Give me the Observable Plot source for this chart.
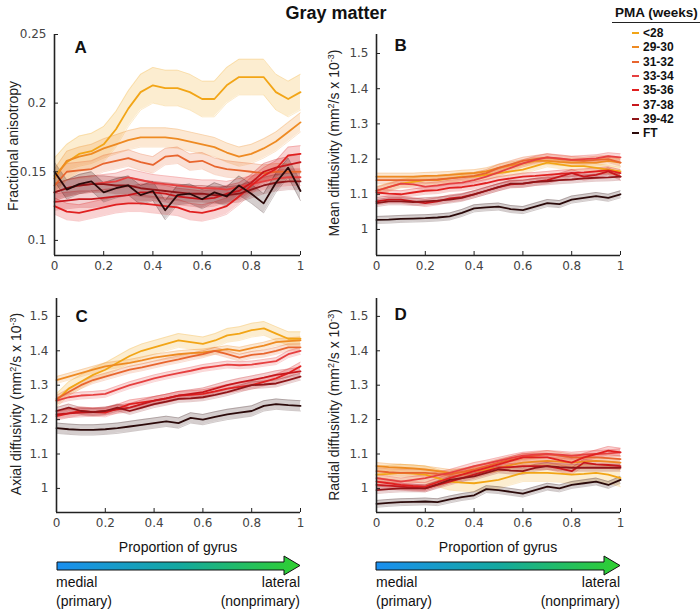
<!DOCTYPE html>
<html><head><meta charset="utf-8">
<script src="https://cdn.jsdelivr.net/npm/d3@7"></script>
<script src="https://cdn.jsdelivr.net/npm/@observablehq/plot@0.6"></script>
<style>
body{margin:0;background:#fff;}
#root{position:relative;width:700px;height:611px;font-family:"Liberation Sans",Arial,Helvetica,sans-serif;color:#111;overflow:hidden;background:#fff}
.abs{position:absolute;white-space:nowrap}
.ylab{position:absolute;font-size:14px;color:#222;white-space:nowrap;transform:translate(-50%,-50%) rotate(-90deg);}
.ylab sup{font-size:9px;vertical-align:5px;line-height:0}
.xlab{position:absolute;font-size:14px;color:#111;white-space:nowrap;transform:translate(-50%,-50%);}
.dir{position:absolute;font-size:14px;color:#111;white-space:nowrap;line-height:19px}
.leg{position:absolute;font-size:12px;font-weight:bold;color:#111;white-space:nowrap;line-height:14px}
</style></head><body><div id="root"></div>
<script>
// ---- data ----
const groups = ["<28","29-30","31-32","33-34","35-36","37-38","39-42","FT"];
const palette = ["#f2a516","#ee8a22","#e8652e","#e64040","#e02020","#c8171c","#8f1518","#2b0a0a"];
const xs = [0,0.05,0.1,0.15,0.2,0.25,0.3,0.35,0.4,0.45,0.5,0.55,0.6,0.65,0.7,0.75,0.8,0.85,0.9,0.95,1];
const xTicks = [0,0.2,0.4,0.6,0.8,1];
const faTicks = [0.1,0.15,0.2,0.25];
const dTicks = [1,1.1,1.2,1.3,1.4,1.5];

// Fractional anisotropy (A)
const FA = [
  [0.147,0.157,0.163,0.165,0.170,0.181,0.196,0.208,0.213,0.211,0.211,0.208,0.203,0.203,0.213,0.219,0.219,0.219,0.208,0.203,0.208],
  [0.145,0.158,0.161,0.163,0.167,0.170,0.173,0.175,0.175,0.175,0.174,0.172,0.170,0.168,0.164,0.161,0.163,0.167,0.172,0.179,0.186],
  [0.140,0.150,0.151,0.152,0.156,0.158,0.160,0.157,0.155,0.161,0.162,0.157,0.158,0.154,0.152,0.151,0.150,0.149,0.150,0.150,0.150],
  [0.135,0.138,0.140,0.141,0.142,0.143,0.146,0.144,0.142,0.141,0.140,0.139,0.138,0.138,0.137,0.139,0.141,0.143,0.145,0.146,0.146],
  [0.125,0.121,0.120,0.122,0.124,0.126,0.127,0.127,0.126,0.125,0.124,0.121,0.120,0.122,0.125,0.132,0.140,0.147,0.152,0.162,0.163],
  [0.128,0.129,0.130,0.130,0.131,0.132,0.133,0.135,0.135,0.134,0.132,0.131,0.130,0.131,0.134,0.136,0.142,0.150,0.153,0.155,0.157],
  [0.135,0.138,0.140,0.141,0.141,0.140,0.140,0.138,0.137,0.136,0.135,0.134,0.134,0.133,0.133,0.134,0.137,0.140,0.142,0.143,0.143],
  [0.150,0.137,0.141,0.143,0.135,0.138,0.140,0.133,0.136,0.122,0.133,0.134,0.130,0.135,0.132,0.140,0.134,0.127,0.142,0.153,0.136]
];
const FA_se = [0.013,0.007,0.006,0.006,0.006,0.006,0.006,0.007];

// Mean diffusivity (B)
const MD = [
  [1.110,1.120,1.130,1.135,1.140,1.140,1.145,1.150,1.150,1.155,1.160,1.165,1.170,1.180,1.190,1.185,1.180,1.180,1.175,1.170,1.165],
  [1.150,1.150,1.150,1.150,1.152,1.153,1.155,1.158,1.160,1.165,1.175,1.182,1.188,1.195,1.195,1.192,1.190,1.190,1.190,1.195,1.190],
  [1.140,1.140,1.140,1.140,1.140,1.142,1.145,1.148,1.152,1.160,1.175,1.185,1.195,1.200,1.205,1.200,1.197,1.195,1.198,1.200,1.190],
  [1.110,1.120,1.130,1.128,1.122,1.125,1.130,1.133,1.140,1.150,1.162,1.175,1.188,1.198,1.205,1.202,1.198,1.200,1.202,1.208,1.205],
  [1.105,1.102,1.100,1.105,1.110,1.112,1.118,1.120,1.125,1.132,1.140,1.145,1.150,1.152,1.155,1.158,1.160,1.162,1.165,1.168,1.160],
  [1.080,1.085,1.085,1.080,1.075,1.080,1.088,1.092,1.100,1.110,1.120,1.128,1.130,1.135,1.140,1.150,1.160,1.150,1.155,1.165,1.150],
  [1.075,1.080,1.080,1.078,1.080,1.082,1.085,1.090,1.100,1.110,1.120,1.130,1.130,1.135,1.137,1.140,1.142,1.145,1.147,1.148,1.150],
  [1.027,1.028,1.030,1.031,1.032,1.034,1.037,1.047,1.060,1.063,1.065,1.058,1.055,1.065,1.075,1.072,1.085,1.090,1.095,1.090,1.100]
];
const MD_se = [0.012,0.01,0.01,0.01,0.01,0.01,0.01,0.01];

// Axial diffusivity (C)
const AD = [
  [1.255,1.290,1.310,1.330,1.345,1.365,1.385,1.400,1.410,1.420,1.430,1.425,1.420,1.430,1.445,1.450,1.460,1.465,1.450,1.435,1.435],
  [1.315,1.325,1.335,1.345,1.355,1.360,1.365,1.372,1.380,1.385,1.390,1.393,1.395,1.400,1.405,1.400,1.408,1.415,1.425,1.428,1.430],
  [1.260,1.280,1.300,1.315,1.325,1.335,1.345,1.352,1.360,1.368,1.375,1.383,1.390,1.400,1.390,1.380,1.388,1.392,1.400,1.410,1.410],
  [1.255,1.265,1.270,1.272,1.275,1.288,1.300,1.310,1.320,1.328,1.335,1.342,1.350,1.355,1.360,1.358,1.360,1.365,1.370,1.390,1.400],
  [1.210,1.218,1.225,1.222,1.220,1.232,1.245,1.250,1.255,1.262,1.270,1.272,1.275,1.282,1.290,1.295,1.300,1.310,1.320,1.335,1.355],
  [1.215,1.218,1.220,1.222,1.225,1.230,1.235,1.245,1.255,1.262,1.270,1.275,1.280,1.290,1.300,1.308,1.315,1.322,1.330,1.335,1.340],
  [1.225,1.235,1.225,1.222,1.225,1.235,1.225,1.235,1.245,1.252,1.260,1.262,1.265,1.272,1.280,1.290,1.300,1.302,1.305,1.315,1.325],
  [1.175,1.172,1.170,1.170,1.172,1.175,1.180,1.185,1.190,1.195,1.190,1.205,1.200,1.208,1.215,1.220,1.225,1.240,1.245,1.242,1.240]
];
const AD_se = [0.02,0.01,0.01,0.01,0.012,0.012,0.01,0.015];

// Radial diffusivity (D)
const RD = [
  [1.040,1.042,1.045,1.043,1.040,1.030,1.020,1.017,1.015,1.020,1.025,1.035,1.045,1.045,1.045,1.043,1.040,1.042,1.045,1.040,1.030],
  [1.065,1.062,1.060,1.058,1.055,1.050,1.045,1.047,1.050,1.055,1.060,1.068,1.075,1.078,1.080,1.078,1.075,1.078,1.080,1.078,1.075],
  [1.050,1.047,1.045,1.045,1.045,1.042,1.040,1.048,1.055,1.065,1.075,1.083,1.090,1.095,1.100,1.095,1.090,1.090,1.090,1.088,1.085],
  [1.030,1.025,1.020,1.025,1.030,1.038,1.045,1.055,1.065,1.072,1.080,1.088,1.095,1.098,1.100,1.098,1.095,1.098,1.100,1.102,1.105],
  [1.020,1.015,1.010,1.007,1.005,1.018,1.030,1.040,1.050,1.060,1.070,1.080,1.090,1.090,1.090,1.082,1.075,1.090,1.100,1.110,1.105],
  [1.010,1.008,1.005,1.002,1.000,1.010,1.020,1.030,1.040,1.050,1.060,1.062,1.065,1.065,1.065,1.058,1.050,1.075,1.070,1.068,1.065],
  [0.995,0.998,1.000,1.000,1.000,1.012,1.025,1.030,1.035,1.045,1.055,1.052,1.050,1.060,1.065,1.062,1.060,1.060,1.060,1.060,1.060],
  [0.955,0.958,0.960,0.961,0.962,0.960,0.968,0.975,0.980,0.998,0.995,0.990,0.985,0.995,1.005,1.000,1.010,1.015,1.020,1.010,1.025]
];
const RD_se = [0.025,0.01,0.01,0.01,0.012,0.01,0.01,0.01];

// ---- drawing ----
const root = document.getElementById("root");
const fmt = d => String(d);

function panel(cfg) {
  const rows = [];
  cfg.vals.forEach((arr, i) => arr.forEach((v, j) =>
    rows.push({series: groups[i], x: xs[j], y: v, lo: v - cfg.se[i], hi: v + cfg.se[i]})));
  const pw = cfg.width - cfg.mL - cfg.mR, ph = cfg.height - cfg.mT - cfg.mB;
  const chart = Plot.plot({
    width: cfg.width, height: cfg.height,
    marginLeft: cfg.mL, marginRight: cfg.mR, marginTop: cfg.mT, marginBottom: cfg.mB,
    x: {domain: [0, 1]},
    y: {domain: cfg.yDomain},
    color: {domain: groups, range: palette},
    style: {fontFamily: "'DejaVu Sans', sans-serif", fontSize: "12px", color: "#444", background: "transparent", overflow: "visible"},
    marks: [
      Plot.areaY(rows, {x: "x", y1: "lo", y2: "hi", z: "series", fill: "series", fillOpacity: 0.2}),
      Plot.lineY(rows, {x: "x", y: "lo", z: "series", stroke: "series", strokeOpacity: 0.28, strokeWidth: 0.8}),
      Plot.lineY(rows, {x: "x", y: "hi", z: "series", stroke: "series", strokeOpacity: 0.28, strokeWidth: 0.8}),
      Plot.lineY(rows, {x: "x", y: "y", z: "series", stroke: "series", strokeWidth: 1.8}),
      Plot.ruleX([0], {stroke: "#222", strokeWidth: 1.6}),
      Plot.ruleY([cfg.yDomain[0]], {stroke: "#222", strokeWidth: 1.6}),
      Plot.tickY(cfg.yTicks, {y: d => d, insetRight: pw - 4, stroke: "#222"}),
      Plot.tickX(xTicks, {x: d => d, insetTop: ph - 4, stroke: "#222"}),
      Plot.axisX({ticks: xTicks, tickSize: 0, tickPadding: 6, tickFormat: fmt, label: null}),
      Plot.axisY({ticks: cfg.yTicks, tickSize: 0, tickPadding: 8, tickFormat: fmt, label: null}),
      Plot.text([cfg.letter], {frameAnchor: "top-left", text: d => d, dx: cfg.ldx, dy: cfg.ldy,
        fontWeight: "bold", fontSize: 17, fill: "#111", fontFamily: "'Liberation Sans', Arial, sans-serif"})
    ]
  });
  chart.style.position = "absolute";
  chart.style.left = cfg.left + "px";
  chart.style.top = cfg.top + "px";
  root.append(chart);
}

panel({vals: FA, se: FA_se, yDomain: [0.089, 0.25], yTicks: faTicks, letter: "A",
  left: 0, top: 20, width: 310, height: 262, mL: 54, mR: 10, mT: 14, mB: 27, ldx: 20, ldy: 6});
panel({vals: MD, se: MD_se, yDomain: [0.926, 1.554], yTicks: dTicks, letter: "B",
  left: 330, top: 20, width: 300, height: 262, mL: 46, mR: 10, mT: 14, mB: 27, ldx: 18, ldy: 4});
panel({vals: AD, se: AD_se, yDomain: [0.93, 1.552], yTicks: dTicks, letter: "C",
  left: 0, top: 284, width: 310, height: 250, mL: 56, mR: 10, mT: 14, mB: 22, ldx: 19, ldy: 11});
panel({vals: RD, se: RD_se, yDomain: [0.93, 1.552], yTicks: dTicks, letter: "D",
  left: 330, top: 284, width: 300, height: 250, mL: 46, mR: 10, mT: 14, mB: 22, ldx: 18, ldy: 9});

// ---- text, legend, arrows ----
function addDiv(cls, html, style) {
  const d = document.createElement("div");
  d.className = cls; d.innerHTML = html;
  Object.assign(d.style, style);
  root.append(d);
  return d;
}
addDiv("abs", "Gray matter", {left: "336px", top: "13px", transform: "translate(-50%,-50%)", fontSize: "18px", fontWeight: "bold"});

addDiv("ylab", "Fractional anisotropy", {left: "13px", top: "146px"});
addDiv("ylab", "Mean diffusivity (mm<sup>2</sup>/s x 10<sup>-3</sup>)", {left: "334px", top: "143px"});
addDiv("ylab", "Axial diffusivity (mm<sup>2</sup>/s x 10<sup>-3</sup>)", {left: "16px", top: "404px"});
addDiv("ylab", "Radial diffusivity (mm<sup>2</sup>/s x 10<sup>-3</sup>)", {left: "334px", top: "405px"});

addDiv("xlab", "Proportion of gyrus", {left: "178px", top: "547px"});
addDiv("xlab", "Proportion of gyrus", {left: "498px", top: "547px"});

function arrow(x0, x1, id) {
  const ns = "http://www.w3.org/2000/svg";
  const svg = document.createElementNS(ns, "svg");
  svg.setAttribute("width", 700); svg.setAttribute("height", 30);
  svg.style.position = "absolute"; svg.style.left = "0px"; svg.style.top = "551px";
  const xh = x1 - 16;
  svg.innerHTML = `<defs><linearGradient id="${id}" x1="0" x2="1" y1="0" y2="0">
    <stop offset="0" stop-color="#1a8ff0"/><stop offset="0.5" stop-color="#14a8a0"/><stop offset="1" stop-color="#2fd02f"/></linearGradient></defs>
    <path d="M${x0},11 L${xh},11 L${xh},5 L${x1},14.5 L${xh},24 L${xh},19 L${x0},19 Z" fill="url(#${id})" stroke="#111" stroke-width="1"/>`;
  root.append(svg);
}
arrow(57, 300, "g1");
arrow(376, 620, "g2");

addDiv("dir", "medial<br>(primary)", {left: "56px", top: "573px"});
addDiv("dir", "lateral<br>(nonprimary)", {left: "300px", top: "573px", transform: "translateX(-100%)", textAlign: "right"});
addDiv("dir", "medial<br>(primary)", {left: "376px", top: "573px"});
addDiv("dir", "lateral<br>(nonprimary)", {left: "620px", top: "573px", transform: "translateX(-100%)", textAlign: "right"});

// legend
addDiv("abs", "PMA (weeks)", {left: "615px", top: "5px", fontSize: "13.5px", fontWeight: "bold"});
addDiv("abs", "", {left: "612px", top: "22px", width: "90px", height: "0px", borderTop: "1.5px solid #222"});
groups.forEach((g, i) => {
  const y = 33 + i * 14.3;
  addDiv("abs", "", {left: "632px", top: (y - 1) + "px", width: "7px", height: "2px", background: palette[i]});
  addDiv("leg", g.replace("<", "&lt;"), {left: "643px", top: (y - 7) + "px"});
});
</script></body></html>
